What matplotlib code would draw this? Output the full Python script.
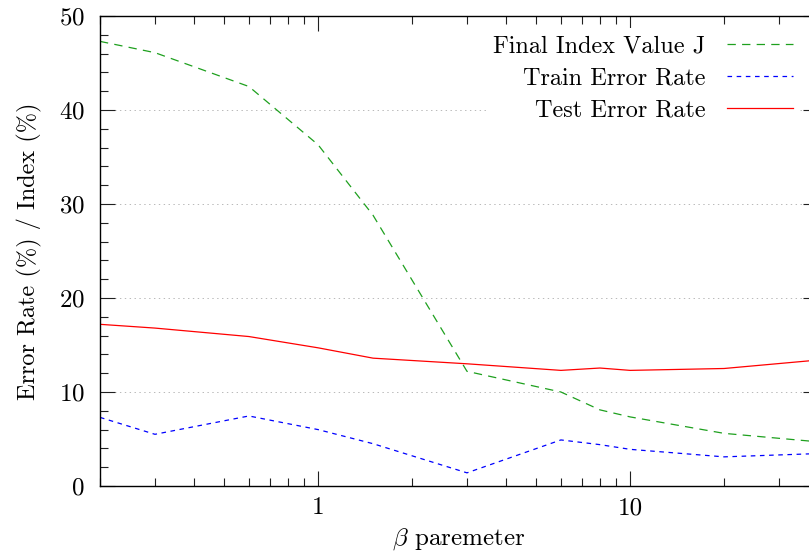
import matplotlib
matplotlib.use("Agg")
import matplotlib.pyplot as plt
from matplotlib.ticker import FixedLocator, NullFormatter

plt.rcParams['font.family'] = ['cmr10', 'DejaVu Serif']
plt.rcParams['mathtext.fontset'] = 'cm'
plt.rcParams['axes.formatter.use_mathtext'] = True
plt.rcParams['lines.scale_dashes'] = False

# beta values and the three curves
beta = [0.2, 0.3, 0.6, 1, 1.5, 3, 6, 8, 10, 20, 40]
final_index = [47.3, 46.1, 42.5, 36.3, 28.8, 12.2, 10.0, 8.1, 7.35, 5.6, 4.7]
train_err = [7.3, 5.5, 7.45, 6.0, 4.5, 1.4, 4.9, 4.4, 3.9, 3.1, 3.45]
test_err = [17.2, 16.8, 15.9, 14.7, 13.6, 13.0, 12.3, 12.55, 12.3, 12.5, 13.4]

fig = plt.figure(figsize=(8.09, 5.53), dpi=100)
# right border sits just outside the picture, like the reference
ax = fig.add_axes([100 / 809, 67 / 553, 718 / 809, 470 / 553])

ax.plot(beta, final_index, color='#1ea01e', lw=0.9, dashes=(6, 4.5),
        label='Final Index Value J')
ax.plot(beta, train_err, color='#0000ff', lw=0.9, dashes=(3.3, 3.3),
        label='Train Error Rate')
ax.plot(beta, test_err, color='#ff0000', lw=0.9, label='Test Error Rate')

ax.set_xscale('log')
ax.set_xlim(0.2, 40)
ax.set_ylim(0, 50)

ax.xaxis.set_major_locator(FixedLocator([1, 10]))
ax.set_xticklabels(['1', '10'])
minors = [0.2, 0.3, 0.4, 0.5, 0.6, 0.7, 0.8, 0.9, 2, 3, 4, 5, 6, 7, 8, 9, 20, 30, 40]
ax.xaxis.set_minor_locator(FixedLocator(minors))
ax.xaxis.set_minor_formatter(NullFormatter())
ax.set_yticks([0, 10, 20, 30, 40, 50])
ax.yaxis.set_minor_locator(FixedLocator(range(0, 51, 2)))

ax.tick_params(which='both', direction='in', top=True, right=True,
               width=0.8, color='#202020')
ax.tick_params(which='major', length=11, labelsize=18)
ax.tick_params(axis='x', which='major', pad=8)
ax.tick_params(axis='y', which='major', pad=11)
ax.tick_params(which='minor', length=6)

for y in [10, 20, 30, 40]:
    ax.axhline(y, color='#b8b8b8', lw=0.7, ls=(0, (1, 2.5)), zorder=0)

for s in ax.spines.values():
    s.set_linewidth(1.0)

ax.set_xlabel(r'$\beta$ paremeter', fontsize=18, labelpad=5)
ax.set_ylabel('Error Rate (%) / Index (%)', fontsize=17.5, labelpad=12)

leg = ax.legend(loc='upper right', bbox_to_anchor=(0.975, 0.975),
                fontsize=17.5, markerfirst=False, frameon=True,
                handlelength=2.7, handletextpad=0.9, labelspacing=0.41,
                borderpad=0.3, borderaxespad=0)
leg.get_frame().set_edgecolor('none')
leg.get_frame().set_facecolor('white')
leg.get_frame().set_alpha(1)
for t in leg.get_texts():
    t.set_ha('right')

fig.savefig('out.png', dpi=100)
